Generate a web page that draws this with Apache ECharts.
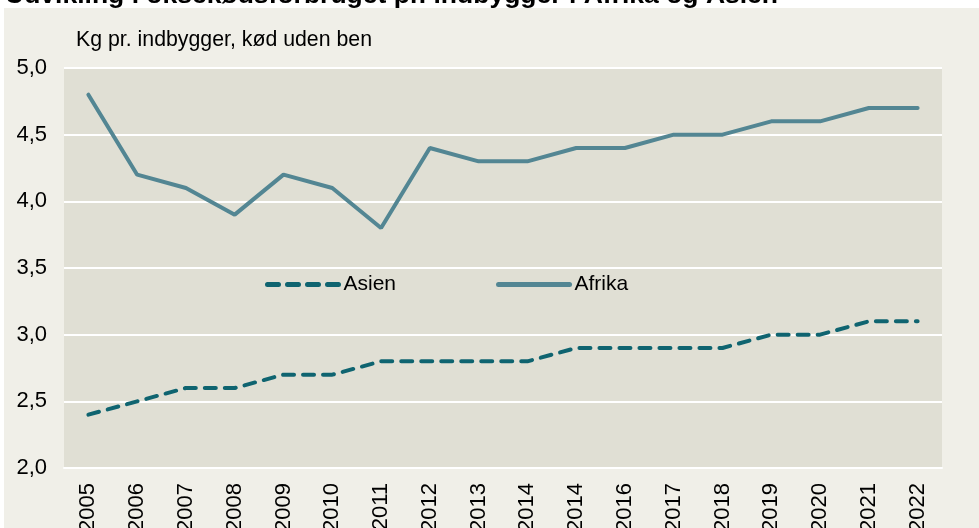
<!DOCTYPE html>
<html>
<head>
<meta charset="utf-8">
<script src="https://cdn.jsdelivr.net/npm/echarts@6/dist/echarts.min.js"></script>
<style>
  html, body { margin: 0; padding: 0; background: #fff; }
  #chart { width: 979px; height: 528px; }
</style>
</head>
<body>
<div id="chart"></div>
<script>
const years = ['2005', '2006', '2007', '2008', '2009', '2010', '2011', '2012', '2013',
  '2014', '2014', '2016', '2017', '2018', '2019', '2020', '2021', '2022'];
const asien = [2.4, 2.5, 2.6, 2.6, 2.7, 2.7, 2.8, 2.8, 2.8, 2.8, 2.9, 2.9, 2.9, 2.9, 3.0, 3.0, 3.1, 3.1];
const afrika = [4.8, 4.2, 4.1, 3.9, 4.2, 4.1, 3.8, 4.4, 4.3, 4.3, 4.4, 4.4, 4.5, 4.5, 4.6, 4.6, 4.7, 4.7];

const chart = echarts.init(document.getElementById('chart'));

chart.setOption({
  backgroundColor: '#ffffff',
  animation: false,
  textStyle: { fontFamily: 'Liberation Sans, Arial, sans-serif' },
  graphic: [
    {
      type: 'text',
      z: -20,
      left: 5,
      top: -18,
      style: {
        text: 'Udvikling i oksekødsforbruget pr. indbygger i Afrika og Asien',
        font: 'bold 26.5px Liberation Sans, Arial, sans-serif',
        fill: '#000'
      }
    },
    {
      type: 'rect',
      z: -10,
      shape: { x: 4, y: 8, width: 979, height: 528 },
      style: { fill: '#f0efe8' }
    },
    {
      type: 'text',
      left: 76,
      top: 30,
      style: {
        text: 'Kg pr. indbygger, kød uden ben',
        font: '21.3px Liberation Sans, Arial, sans-serif',
        fill: '#000'
      }
    }
  ],
  grid: {
    left: 64,
    right: 37,
    top: 68,
    bottom: 60,
    show: true,
    backgroundColor: '#e0dfd4',
    borderWidth: 0,
    outerBoundsMode: 'none'
  },
  legend: {
    top: 274,
    left: 265,
    padding: 0,
    itemWidth: 71,
    itemHeight: 14,
    itemGap: 100,
    itemStyle: { opacity: 0 },
    lineStyle: { width: 5 },
    textStyle: { fontSize: 21, color: '#000' },
    data: ['Asien', 'Afrika']
  },
  xAxis: {
    type: 'category',
    data: years,
    boundaryGap: true,
    axisLine: { show: true, lineStyle: { color: '#ffffff', width: 2 } },
    axisTick: { show: false },
    axisLabel: {
      rotate: 90,
      fontSize: 22,
      color: '#000',
      margin: 15,
      interval: 0
    }
  },
  yAxis: {
    type: 'value',
    min: 2,
    max: 5,
    interval: 0.5,
    axisLine: { show: false },
    axisTick: { show: false },
    splitLine: { lineStyle: { color: '#ffffff', width: 2 } },
    axisLabel: {
      fontSize: 22,
      color: '#000',
      margin: 17,
      formatter: v => v.toFixed(1).replace('.', ',')
    }
  },
  series: [
    {
      name: 'Asien',
      type: 'line',
      data: asien,
      symbol: 'none',
      lineStyle: { color: '#0f6470', width: 4, type: [11, 9], cap: 'round' },
      itemStyle: { color: '#0f6470' }
    },
    {
      name: 'Afrika',
      type: 'line',
      data: afrika,
      symbol: 'none',
      lineStyle: { color: '#538693', width: 4, cap: 'round' },
      itemStyle: { color: '#538693' }
    }
  ]
});
</script>
</body>
</html>
